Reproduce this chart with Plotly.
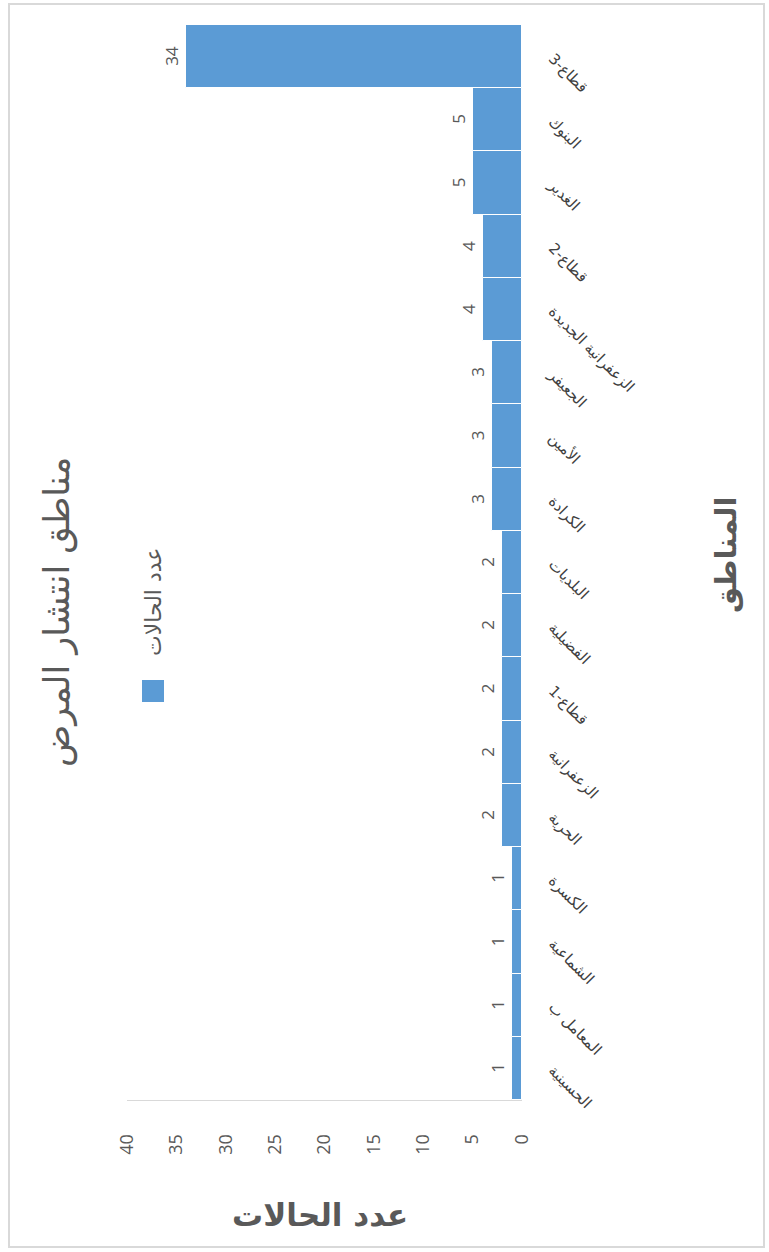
import plotly.graph_objects as go

# Data (bottom -> top, as drawn)
categories = ["الحسينية", "المعامل ب", "الشماعية", "الكسرة", "الحرية",
              "الزعفرانية ", "قطاع-1", "الفضيلية", "البلديات", "الكرادة",
              "الأمين", "الجعيفر", "الزعفرانية الجديدة", "قطاع-2", "الغدير",
              "البنوك", "قطاع-3"]
cases = [1, 1, 1, 1, 2, 2, 2, 2, 2, 3, 3, 3, 4, 4, 5, 5, 34]
value_ticks = [0, 5, 10, 15, 20, 25, 30, 35, 40]

title_text = "مناطق انتشار المرض"
legend_text = "عدد الحالات"
cat_axis_title = "المناطق"
val_axis_title = "عدد الحالات"

W, H = 769, 1252
L, R, T, B = 127, 522, 25, 1100


def px(x):
    return (x - L) / (R - L)


def py(y):
    return (B - y) / (B - T)


BAR = "#5B9BD5"
GREY = "#595959"

fig = go.Figure(go.Bar(
    y=categories, x=cases, orientation="h",
    marker=dict(color=BAR, line=dict(color="#FFFFFF", width=1)),
    text=[str(v) for v in cases], textposition="outside", textangle=-90,
    constraintext="none", cliponaxis=False,
    textfont=dict(family="Open Sans", size=17, color=GREY),
    showlegend=False,
))

fig.update_layout(
    width=W, height=H,
    margin=dict(l=L, r=W - R, t=T, b=H - B),
    bargap=0,
    plot_bgcolor="white", paper_bgcolor="white",
    font=dict(family="DejaVu Sans", color=GREY),
)
fig.update_xaxes(
    range=[40, 0], tickvals=value_ticks, tickangle=-90,
    showgrid=False, zeroline=False, showline=True, linecolor="#D9D9D9",
    ticks="", ticklabelstandoff=26,
    tickfont=dict(family="Open Sans", size=18, color=GREY),
)
fig.update_yaxes(
    side="right", tickangle=45, showgrid=False, zeroline=False,
    ticks="", ticklabelstandoff=30,
    tickfont=dict(family="DejaVu Sans", size=15, color="#404040"),
    categoryorder="array", categoryarray=categories,
)

annots = [
    dict(text=title_text, x=px(57), y=py(612), textangle=-90,
         font=dict(family="DejaVu Sans", size=35, color=GREY)),
    dict(text=legend_text, x=px(153), y=py(602), textangle=-90,
         font=dict(family="DejaVu Sans", size=22, color=GREY)),
    dict(text="<b>" + cat_axis_title + "</b>", x=px(726), y=py(555), textangle=-90,
         font=dict(family="DejaVu Sans", size=29, color=GREY)),
    dict(text="<b>" + val_axis_title + "</b>", x=px(320), y=py(1215), textangle=0,
         font=dict(family="DejaVu Sans", size=31, color=GREY)),
]
for a in annots:
    a.update(xref="paper", yref="paper", showarrow=False,
             xanchor="center", yanchor="middle")
fig.update_layout(annotations=annots)

fig.add_shape(type="rect", xref="paper", yref="paper",
              x0=px(142), x1=px(164), y0=py(680), y1=py(702),
              fillcolor=BAR, line=dict(width=0))
fig.add_shape(type="rect", xref="paper", yref="paper",
              x0=px(9), x1=px(764), y0=py(4), y1=py(1247),
              fillcolor="rgba(0,0,0,0)", line=dict(color="#D9D9D9", width=2))

fig.write_html("out.html")
